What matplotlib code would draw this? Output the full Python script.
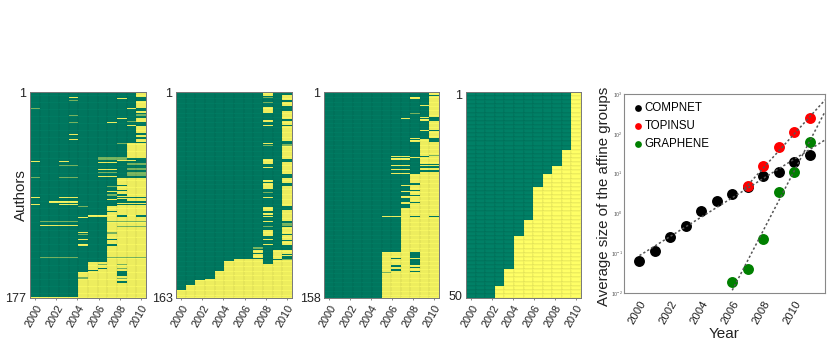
import numpy as np
import matplotlib
matplotlib.use("Agg")
import matplotlib.pyplot as plt
from matplotlib.transforms import ScaledTranslation

plt.rcParams['font.family'] = ['Liberation Sans', 'DejaVu Sans']

W, H = 830, 354
GREEN, PALE, YELLOW = 0.0, 0.5, 1.0
TICK_YEARS = [2000, 2002, 2004, 2006, 2008, 2010]

# each block: first row, last row, first column, last column, value (columns 0-11, later blocks overwrite)
AUTHORS_A = 177
BLOCKS_A = [
	(1, 1, 4, 4, PALE), (5, 5, 4, 4, YELLOW), (8, 8, 4, 4, PALE), (21, 21, 4, 4, PALE), (27, 27, 4, 4, PALE),
	(37, 37, 4, 4, YELLOW), (41, 41, 4, 4, YELLOW),
	(15, 15, 0, 0, PALE), (60, 60, 0, 0, YELLOW), (74, 74, 0, 0, PALE), (91, 91, 0, 0, YELLOW), (97, 97, 0, 0, YELLOW),
	(60, 60, 3, 3, YELLOW), (64, 64, 3, 4, PALE), (74, 74, 3, 4, PALE), (91, 91, 3, 4, YELLOW),
	(95, 95, 2, 4, YELLOW), (97, 97, 3, 4, YELLOW), (112, 112, 1, 4, PALE), (115, 115, 1, 4, YELLOW), (143, 143, 1, 4, PALE),
	(2, 4, 11, 11, YELLOW), (9, 14, 11, 11, YELLOW), (17, 18, 11, 11, YELLOW), (20, 21, 11, 11, PALE), (23, 26, 11, 11, YELLOW),
	(30, 35, 11, 11, YELLOW), (38, 39, 11, 11, YELLOW), (41, 43, 11, 11, YELLOW),
	(6, 6, 9, 9, YELLOW), (23, 23, 9, 9, YELLOW), (45, 45, 9, 9, PALE), (27, 27, 8, 8, YELLOW),
	(15, 15, 10, 10, YELLOW), (26, 26, 10, 10, PALE), (29, 29, 10, 10, YELLOW),
	(45, 57, 10, 11, YELLOW), (59, 59, 9, 10, YELLOW), (57, 57, 7, 9, PALE), (58, 58, 7, 9, PALE),
	(61, 61, 7, 8, YELLOW), (67, 67, 7, 8, YELLOW), (70, 70, 7, 8, PALE), (73, 73, 7, 8, YELLOW),
	(62, 63, 10, 11, PALE), (66, 67, 10, 11, PALE), (70, 72, 10, 11, PALE),
	(75, 98, 9, 11, YELLOW), (82, 82, 8, 8, PALE), (86, 86, 8, 8, YELLOW), (89, 89, 8, 8, PALE), (93, 93, 8, 8, YELLOW),
	(81, 81, 9, 9, GREEN), (85, 85, 9, 9, GREEN), (89, 89, 9, 9, GREEN), (93, 94, 9, 9, GREEN),
	(91, 91, 9, 11, GREEN), (95, 95, 9, 11, GREEN), (97, 97, 9, 11, GREEN),
	(99, 110, 8, 11, YELLOW), (103, 103, 8, 8, GREEN), (107, 107, 6, 8, YELLOW), (107, 107, 9, 9, GREEN), (107, 107, 11, 11, GREEN),
	(111, 146, 8, 11, YELLOW), (112, 112, 8, 11, PALE), (116, 116, 9, 11, PALE), (121, 122, 8, 8, PALE), (127, 127, 8, 8, GREEN),
	(132, 132, 8, 8, GREEN), (143, 143, 8, 11, PALE),
	(99, 99, 5, 5, PALE), (108, 108, 5, 5, YELLOW), (121, 121, 5, 5, YELLOW), (123, 123, 5, 5, PALE), (127, 127, 5, 5, YELLOW), (132, 132, 5, 5, YELLOW),
	(147, 177, 6, 11, YELLOW), (149, 149, 7, 7, PALE), (152, 152, 7, 7, GREEN),
	(149, 149, 9, 9, PALE), (152, 152, 9, 9, PALE), (155, 158, 9, 9, GREEN), (161, 161, 9, 9, PALE), (163, 164, 9, 9, GREEN),
	(156, 177, 5, 5, YELLOW), (160, 161, 5, 5, PALE), (154, 154, 5, 6, GREEN), (177, 177, 0, 4, YELLOW),
]

AUTHORS_B = 163
BLOCKS_B = [
	(158, 163, 0, 11, YELLOW), (154, 163, 1, 11, YELLOW), (150, 163, 2, 11, YELLOW), (149, 163, 3, 11, YELLOW),
	(143, 163, 4, 11, YELLOW), (135, 163, 5, 11, YELLOW), (133, 163, 6, 11, YELLOW), (133, 136, 9, 9, GREEN),
	(126, 132, 10, 10, YELLOW), (133, 133, 10, 10, GREEN), (124, 124, 8, 8, PALE), (126, 127, 8, 8, YELLOW), (129, 131, 8, 8, YELLOW),
	(1, 3, 9, 9, YELLOW), (5, 5, 9, 9, PALE), (9, 9, 9, 9, PALE), (13, 17, 9, 9, YELLOW), (23, 24, 9, 9, YELLOW), (27, 27, 9, 9, YELLOW),
	(41, 41, 9, 9, YELLOW), (43, 43, 9, 9, PALE), (54, 57, 9, 9, YELLOW), (60, 60, 9, 9, YELLOW), (71, 71, 9, 9, YELLOW),
	(73, 77, 9, 9, YELLOW), (80, 80, 9, 9, PALE), (84, 84, 9, 9, YELLOW), (92, 94, 9, 9, YELLOW), (97, 97, 9, 9, YELLOW),
	(99, 99, 9, 9, YELLOW), (103, 103, 9, 9, YELLOW), (107, 107, 9, 9, PALE), (110, 114, 9, 9, YELLOW), (117, 117, 9, 9, YELLOW), (121, 121, 9, 9, YELLOW),
	(1, 1, 11, 11, PALE), (3, 6, 11, 11, YELLOW), (9, 11, 11, 11, YELLOW), (16, 17, 11, 11, YELLOW), (18, 21, 11, 11, YELLOW),
	(24, 26, 11, 11, YELLOW), (28, 39, 11, 11, YELLOW), (42, 43, 11, 11, PALE), (44, 53, 11, 11, YELLOW), (56, 65, 11, 11, YELLOW),
	(69, 72, 11, 11, YELLOW), (75, 90, 11, 11, YELLOW), (94, 102, 11, 11, YELLOW), (105, 106, 11, 11, PALE), (108, 112, 11, 11, YELLOW),
	(114, 117, 11, 11, YELLOW), (119, 121, 11, 11, YELLOW), (126, 128, 11, 11, YELLOW), (130, 130, 11, 11, YELLOW), (133, 133, 11, 11, PALE),
]

AUTHORS_C = 158
BLOCKS_C = [
	(124, 158, 6, 11, YELLOW), (90, 123, 8, 11, YELLOW), (64, 89, 9, 11, YELLOW), (37, 63, 10, 11, YELLOW), (1, 36, 11, 11, YELLOW),
	(5, 5, 9, 9, YELLOW), (11, 11, 10, 10, YELLOW), (17, 17, 9, 9, PALE), (20, 20, 10, 10, YELLOW), (22, 22, 10, 10, YELLOW),
	(21, 21, 8, 8, YELLOW), (20, 22, 11, 11, GREEN), (30, 30, 10, 10, YELLOW), (30, 30, 11, 11, GREEN), (36, 36, 9, 9, YELLOW),
	(38, 38, 9, 9, YELLOW), (36, 38, 11, 11, GREEN), (3, 3, 11, 11, GREEN),
	(50, 50, 7, 8, YELLOW), (52, 52, 7, 8, YELLOW), (57, 57, 7, 8, YELLOW), (60, 60, 7, 8, YELLOW), (63, 63, 7, 8, YELLOW), (51, 51, 9, 9, YELLOW),
	(49, 49, 11, 11, PALE), (50, 50, 10, 10, GREEN), (56, 56, 10, 11, GREEN), (58, 58, 10, 11, GREEN), (61, 61, 10, 11, GREEN),
	(72, 72, 8, 8, YELLOW), (77, 77, 8, 8, YELLOW), (81, 81, 8, 8, YELLOW), (85, 86, 8, 8, YELLOW),
	(71, 71, 9, 9, GREEN), (76, 76, 9, 9, GREEN), (80, 80, 9, 9, GREEN), (85, 85, 9, 9, GREEN),
	(96, 96, 6, 7, YELLOW), (96, 96, 9, 9, GREEN), (96, 96, 11, 11, GREEN),
	(124, 127, 9, 9, GREEN), (129, 133, 9, 9, GREEN), (135, 135, 9, 9, GREEN), (138, 138, 9, 9, GREEN),
	(128, 128, 7, 7, GREEN), (134, 134, 7, 7, GREEN), (137, 137, 7, 7, GREEN), (139, 139, 6, 6, PALE),
]

AUTHORS_D = 50
# first row of the yellow area in each column
FIRST_ROW_D = [51, 51, 51, 48, 44, 36, 32, 24, 21, 19, 15, 1]

# right panel
COMPNET_YEARS = [2000, 2001, 2002, 2003, 2004, 2005, 2006, 2007, 2008, 2009, 2010, 2011]
COMPNET_SIZE = [0.065, 0.115, 0.254, 0.49, 1.12, 2.1, 3.1, 4.6, 8.8, 11.2, 20, 30]
TOPINSU_YEARS = [2007, 2008, 2009, 2010, 2011]
TOPINSU_SIZE = [4.9, 15.5, 46, 113, 245]
GRAPHENE_YEARS = [2006, 2007, 2008, 2009, 2010, 2011]
GRAPHENE_SIZE = [0.019, 0.039, 0.224, 3.5, 10.7, 63]

COMPNET_FIT_X, COMPNET_FIT_Y = [2000, 2012], [0.087, 70]
TOPINSU_FIT_X, TOPINSU_FIT_Y = [2006.8, 2012], [4.2, 708]
GRAPHENE_FIT_X, GRAPHENE_FIT_Y = [2006, 2012], [0.0117, 360]


def matrix_from_blocks(n_rows, blocks):
	m = np.zeros((n_rows, 12))
	for r0, r1, c0, c1, val in blocks:
		m[r0 - 1:r1, c0:c1 + 1] = val
	return m


def axes_px(fig, left, top, right, bottom):
	return fig.add_axes([left / W, 1 - bottom / H, (right - left) / W, (bottom - top) / H])


def shift_labels(fig, labels, dx_px):
	for label in labels:
		label.set_transform(label.get_transform() + ScaledTranslation(dx_px / 100, 0, fig.dpi_scale_trans))


def plot_matrix(fig, ax, m):
	n_rows = m.shape[0]
	x_edges = np.linspace(1999.5, 2010.5, 13)
	y_edges = np.arange(n_rows + 1) + 0.5
	ax.pcolormesh(x_edges, y_edges, m, cmap='summer', vmin=0, vmax=1, edgecolors=(0, 0, 0, 0.035), linewidth=0.2)
	ax.set_xlim(1999.5, 2010.5)
	ax.set_ylim(n_rows + 0.5, 0.5)
	ax.set_yticks([1, n_rows])
	ax.set_yticklabels(['1', str(n_rows)], fontsize=9, color='#222222')
	ax.set_xticks(TICK_YEARS)
	ax.set_xticklabels([str(y) for y in TICK_YEARS], rotation=60, ha='right', rotation_mode='anchor',
	                   fontsize=7.8, color='#222222')
	shift_labels(fig, ax.get_xticklabels(), 3)
	ax.tick_params(axis='x', length=1.5, width=0.5, color='#555555', pad=2)
	ax.tick_params(axis='y', length=0, pad=2.5)
	for spine in ax.spines.values():
		spine.set_color('#777777')
		spine.set_linewidth(0.7)


if __name__ == '__main__':
	fig = plt.figure(figsize=(W / 100, H / 100), dpi=100)

	blocks_d = [(first, AUTHORS_D, c, c, YELLOW) for c, first in enumerate(FIRST_ROW_D) if first <= AUTHORS_D]

	ax_a = axes_px(fig, 30, 92, 146, 298)
	plot_matrix(fig, ax_a, matrix_from_blocks(AUTHORS_A, BLOCKS_A))
	ax_a.set_ylabel('Authors', fontsize=10.8, color='#222222', labelpad=-16)

	plot_matrix(fig, axes_px(fig, 176, 92, 292, 298), matrix_from_blocks(AUTHORS_B, BLOCKS_B))
	plot_matrix(fig, axes_px(fig, 324, 92, 439, 298), matrix_from_blocks(AUTHORS_C, BLOCKS_C))
	plot_matrix(fig, axes_px(fig, 466, 92, 581, 298), matrix_from_blocks(AUTHORS_D, blocks_d))

	ax = axes_px(fig, 624, 94, 825, 293)
	for fit_x, fit_y in [(COMPNET_FIT_X, COMPNET_FIT_Y), (TOPINSU_FIT_X, TOPINSU_FIT_Y), (GRAPHENE_FIT_X, GRAPHENE_FIT_Y)]:
		ax.plot(fit_x, fit_y, color='#555555', linestyle=(0, (1.5, 1.5)), linewidth=1.1, zorder=3)
	ax.scatter(COMPNET_YEARS, COMPNET_SIZE, s=62, color='black', linewidths=0, label='COMPNET', zorder=2)
	ax.scatter(TOPINSU_YEARS, TOPINSU_SIZE, s=62, color='red', linewidths=0, label='TOPINSU', zorder=2)
	ax.scatter(GRAPHENE_YEARS, GRAPHENE_SIZE, s=62, color='green', linewidths=0, label='GRAPHENE', zorder=2)
	ax.set_yscale('log')
	ax.set_xlim(1999, 2012)
	ax.set_ylim(1e-2, 1e3)
	ax.set_xticks(TICK_YEARS)
	ax.set_xticklabels([str(y) for y in TICK_YEARS], rotation=60, ha='right', rotation_mode='anchor',
	                   fontsize=8.2, color='#222222')
	shift_labels(fig, ax.get_xticklabels(), 4)
	ax.minorticks_off()
	ax.tick_params(axis='x', length=0, pad=4)
	ax.tick_params(axis='y', length=0, pad=1, labelsize=3.8, labelcolor='#555555')
	ax.set_xlabel('Year', fontsize=11, color='#222222', labelpad=1)
	ax.set_ylabel('Average size of the affine groups', fontsize=10.8, color='#222222', labelpad=0)
	ax.yaxis.label.set_y(0.485)
	for spine in ax.spines.values():
		spine.set_color('#888888')
		spine.set_linewidth(0.8)
	leg = ax.legend(loc='upper left', bbox_to_anchor=(0.005, 1.0), frameon=False, fontsize=8.3, markerscale=0.62,
	                handlelength=0.8, handletextpad=0.2, labelspacing=0.52, borderaxespad=0.2, borderpad=0.5)

	fig.savefig('out.png', dpi=100)
	plt.close(fig)
